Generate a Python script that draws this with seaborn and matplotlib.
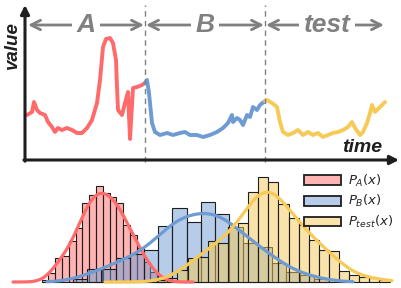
import numpy as np
import pandas as pd
import matplotlib
matplotlib.use("Agg")
import matplotlib.pyplot as plt
import matplotlib.patches as mpatches
from matplotlib.colors import to_rgba
import seaborn as sns

# Time series (time, value) for the three segments
time_A = [27, 32, 34, 37, 40, 45, 48, 52, 55, 58, 62, 67, 72, 77, 82, 87, 92, 97, 100,
          103, 106, 110, 113, 116, 117, 118, 122, 125, 128, 130, 133, 137, 142, 145]
value_A = [45, 48, 58, 50, 47, 45, 38, 33, 28, 32, 30, 32, 30, 27, 27, 32, 40, 57, 80,
           113, 121, 122, 117, 100, 73, 50, 45, 57, 68, 21, 72, 73, 75, 77]
time_B = [145, 147, 149, 152, 155, 160, 167, 173, 180, 185, 190, 197, 203, 210, 217,
          223, 228, 232, 233, 237, 240, 243, 247, 250, 253, 257, 260, 265]
value_B = [77, 80, 67, 37, 28, 25, 27, 25, 27, 28, 25, 25, 23, 25, 28,
           32, 37, 45, 38, 42, 40, 35, 45, 43, 53, 50, 55, 59]
time_T = [265, 267, 272, 277, 280, 283, 288, 293, 298, 303, 308, 313, 318, 323, 328,
          333, 338, 343, 348, 352, 355, 360, 363, 367, 370, 372, 375, 380, 385]
value_T = [59, 60, 57, 53, 38, 28, 25, 27, 30, 25, 28, 25, 27, 23, 25,
           27, 28, 30, 33, 38, 32, 25, 28, 37, 47, 55, 48, 53, 58]

# Histograms: first bin edge, bin width, bin counts
hist_A_start, hist_A_width = 41.6, 6.8
hist_A = [2, 9, 24, 26, 41, 54, 79, 87, 96, 89, 85, 79, 57, 47, 34, 20, 10, 4]
hist_B_start, hist_B_width = 73.1, 14.2
hist_B = [3, 13, 13, 24, 28, 32, 56, 74, 60, 80, 68, 55, 39, 35, 19, 10, 7, 3]
hist_T_start, hist_T_width = 157.3, 10.1
hist_T = [2, 4, 12, 24, 25, 41, 39, 55, 59, 90, 105, 100, 78, 64, 57, 42, 32, 31,
          11, 7, 5, 4, 2]

segments = ["A", "B", "test"]
seg_bounds = [27, 145, 265, 385]
legend_labels = [r"$P_A(x)$", r"$P_B(x)$", r"$P_{test}(x)$"]

red = "#FF6A6A"
blue = "#6E9BD2"
yellow = "#F7C957"
gray = "#808080"
dark = "#1e1e1e"

sns.set_style("white")
plt.rcParams["font.family"] = ["Liberation Sans", "DejaVu Sans"]

fig = plt.figure(figsize=(4.02, 2.88), dpi=100)

# ---- top panel: time series ----
ax1 = fig.add_axes([0, 123 / 288, 1, 165 / 288])
ax1.set_xlim(0, 402)
ax1.set_ylim(-5, 160)
ax1.axis("off")

for t, v, c in [(time_A, value_A, red), (time_B, value_B, blue), (time_T, value_T, yellow)]:
    df = pd.DataFrame({"time": t, "value": v})
    sns.lineplot(data=df, x="time", y="value", color=c, lw=2.8, estimator=None,
                 sort=False, ax=ax1, solid_capstyle="round", solid_joinstyle="round")

# axis arrows
ax1.annotate("", xy=(25, 155), xytext=(25, -1.2),
             arrowprops=dict(arrowstyle="-|>", color=dark, lw=2.2, mutation_scale=13,
                             shrinkA=0, shrinkB=0))
ax1.annotate("", xy=(399, 0), xytext=(23.9, 0),
             arrowprops=dict(arrowstyle="-|>", color=dark, lw=2.2, mutation_scale=13,
                             shrinkA=0, shrinkB=0))

# segment separators
for xb in seg_bounds[1:3]:
    ax1.plot([xb, xb], [-2, 155], color=gray, lw=1, ls=(0, (4, 3)))

# interval arrows with labels
for i, name in enumerate(segments):
    x0, x1 = seg_bounds[i] + 1, seg_bounds[i + 1] - 1
    ax1.annotate("", xy=(x1, 135), xytext=(x0, 135),
                 arrowprops=dict(arrowstyle="<->", color=gray, lw=2, mutation_scale=17,
                                 shrinkA=0, shrinkB=0))
    xm = (x0 + x1) / 2 - (0 if name != "test" else -2)
    ax1.text(xm, 135, name, ha="center", va="center", fontsize=19, color=gray,
             fontweight="bold", fontstyle="italic",
             bbox=dict(facecolor="white", edgecolor="none", pad=3))

ax1.text(12, 115, "value", rotation=90, ha="center", va="center", fontsize=13.5,
         color=dark, fontweight="bold", fontstyle="italic")
ax1.text(362, 12, "time", ha="center", va="center", fontsize=14,
         color=dark, fontweight="bold", fontstyle="italic")

# ---- bottom panel: histograms ----
ax2 = fig.add_axes([0, 4.5 / 288, 1, 118.5 / 288])

hists = [
    (hist_A_start, hist_A_width, hist_A, red, (13, 193)),
    (hist_B_start, hist_B_width, hist_B, blue, (47, 353)),
    (hist_T_start, hist_T_width, hist_T, yellow, (105, 392)),
]
for start, width, counts, c, clip in hists:
    edges = start + width * np.arange(len(counts) + 1)
    centers = (edges[:-1] + edges[1:]) / 2
    df = pd.DataFrame({"x": centers, "count": counts})
    sns.histplot(data=df, x="x", weights="count", bins=edges.tolist(), color=c, alpha=0.5,
                 edgecolor=dark, linewidth=0.8, kde=True,
                 kde_kws=dict(bw_adjust=0.6, cut=10, clip=clip),
                 line_kws=dict(lw=2.3, zorder=5), ax=ax2)
ax2.set_xlim(0, 402)
ax2.set_ylim(-1.5, 117)
ax2.axis("off")

handles = [mpatches.Patch(facecolor=to_rgba(c, 0.5), edgecolor=dark, lw=1.3)
           for c in [red, blue, yellow]]
fig.legend(handles, legend_labels, loc="upper right",
           bbox_to_anchor=(400 / 402, 1 - 166 / 288), frameon=False,
           borderpad=0, handlelength=2.8, handleheight=0.75, handletextpad=0.55,
           labelspacing=0.35, prop={"family": "DejaVu Sans", "size": 9.5})

fig.savefig("out.png", dpi=100)
